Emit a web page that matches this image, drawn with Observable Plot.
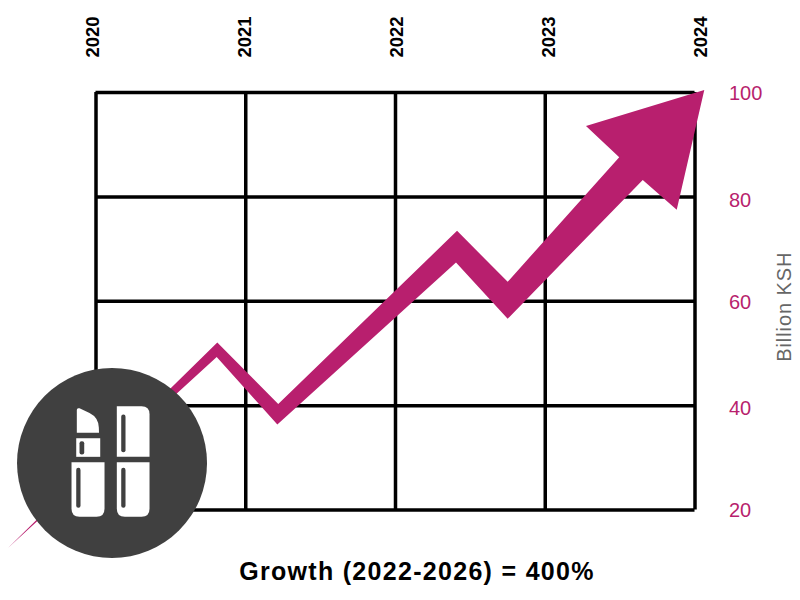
<!DOCTYPE html>
<html>
<head>
<meta charset="utf-8">
<script src="https://cdn.jsdelivr.net/npm/d3@7"></script>
<script src="https://cdn.jsdelivr.net/npm/@observablehq/plot@0.6"></script>
<style>
html,body{margin:0;padding:0;background:#fff}
svg{display:block;overflow:visible}
#caption{width:800px;box-sizing:border-box;padding-left:34px;text-align:center;font:bold 25px "Liberation Sans",Arial,sans-serif;letter-spacing:1.3px;color:#000;line-height:22px;padding-bottom:8px}
</style>
</head>
<body>
<div id="chart"></div>
<div id="caption">Growth (2022-2026) = 400%</div>
<script>
const years = [2020, 2021, 2022, 2023, 2024];
const yearLabels = ["2020", "2021", "2022", "2023", "2024"];
const yearLabelAt = [2019.98, 2020.995, 2022.01, 2023.025, 2024.04];
const levels = [20, 40, 60, 80, 100];
const levelLabels = ["20", "40", "60", "80", "100"];
const levelLabelAt = [20, 39.7, 59.9, 79.4, 100];
const arrowX = [2019.412, 2020.81, 2021.217, 2022.411, 2022.749, 2023.494, 2023.272, 2024.062, 2023.878, 2023.651, 2022.749, 2022.404, 2021.211, 2020.806];
const arrowY = [12.73, 52.11, 40.33, 73.49, 63.73, 87.6, 93.59, 100.48, 77.51, 83.25, 56.65, 67.43, 36.36, 49.32];
const badgeX = [2020.107];
const badgeY = [29];
const accent = "#b81f6e";
const font = '"Liberation Sans",Arial,sans-serif';

function lipstickIcon(index, {x, y}) {
  const g = d3.create("svg:g").attr("transform", `translate(${x(badgeX[0])},${y(badgeY[0])})`);
  const white = [
    "M5.3 -56.3H30Q38 -56.3 38 -48.3V-5.7H5.3Z",
    "M5.3 -0.3H38V46.3Q38 54.3 30 54.3H13.3Q5.3 54.3 5.3 46.3Z",
    "M-40 -0.3H-7V46.3Q-7 54.3 -15 54.3H-32Q-40 54.3 -40 46.3Z",
    "M-35.3 -24.3H-11.3V-5.7H-35.3Z",
    "M-34.7 -29.7V-52.5Q-34.7 -55 -32 -54.2L-22 -49.5Q-13 -45 -12.7 -35L-12.5 -29.7Z"
  ];
  const slots = [[9.7,-48,4.3,37.7],[9.7,5.3,4.3,40],[-35.3,5.3,4.3,40],[-32,-21.3,4.7,13.3]];
  g.selectAll("path").data(white).join("path").attr("d", d => d).attr("fill", "#fff");
  g.selectAll("rect").data(slots).join("rect")
    .attr("x", d => d[0]).attr("y", d => d[1]).attr("width", d => d[2]).attr("height", d => d[3])
    .attr("rx", 2.1).attr("fill", "#404040");
  return g.node();
}

const chart = Plot.plot({
  width: 800, height: 560,
  marginLeft: 95.5, marginRight: 105.5, marginTop: 92, marginBottom: 50.5,
  x: {domain: [2020, 2024], axis: null},
  y: {domain: [20, 100], axis: null},
  style: {background: "transparent", fontFamily: font},
  marks: [
    Plot.ruleX(years, {x: d => d, stroke: "#000", strokeWidth: 3.5}),
    Plot.ruleY(levels, {y: d => d, stroke: "#000", strokeWidth: 3.5}),
    Plot.line(arrowX.map((d, i) => ({x: d, y: arrowY[i]})), {x: "x", y: "y", fill: accent, stroke: "none"}),
    Plot.dot(badgeX, {x: d => d, y: badgeY, r: 95, fill: "#404040", stroke: "none"}),
    lipstickIcon,
    Plot.text(yearLabels, {x: (d, i) => yearLabelAt[i], frameAnchor: "top", dx: -7, dy: -55.5, text: d => d, rotate: -90, fontWeight: "bold", fontSize: 18.5, fill: "#000"}),
    Plot.text(levelLabels, {x: () => 2024, y: (d, i) => levelLabelAt[i], dx: 34, dy: 1, text: d => d, textAnchor: "start", fontSize: 20, fill: accent}),
    Plot.text(["Billion KSH"], {x: () => 2024, y: () => 60, dy: 5.5, dx: 90, text: d => d, rotate: -90, fontSize: 20, fill: "#666"})
  ]
});
d3.select(chart).selectAll("text").filter(function () { return this.textContent === "Billion KSH"; }).style("letter-spacing", "0.9px");
document.getElementById("chart").append(chart);
</script>
</body>
</html>
